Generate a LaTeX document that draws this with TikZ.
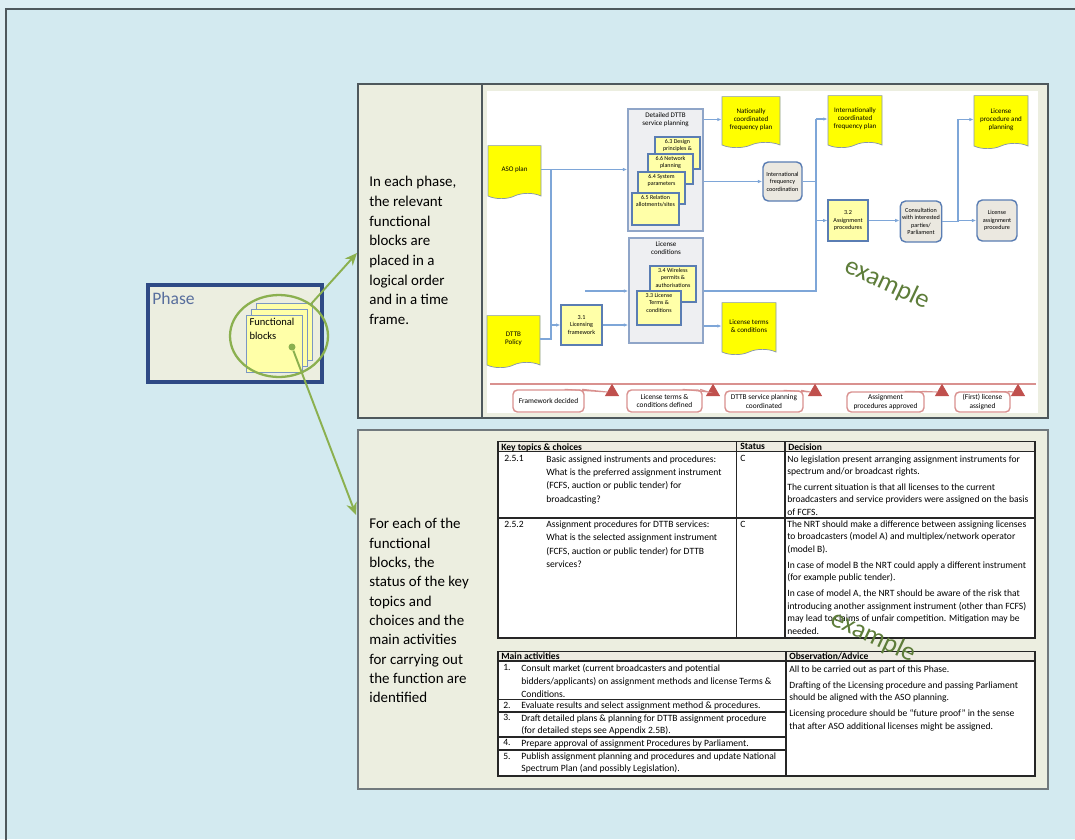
\documentclass[tikz,border=0pt]{standalone}
\usepackage{fontspec}
\setmainfont{Carlito}
\usepackage{tikz}
\usetikzlibrary{shapes,shapes.symbols,shapes.geometric,arrows.meta,positioning,calc}

\definecolor{bgblue}{HTML}{D3EAF0}
\definecolor{bgtop}{HTML}{DDEEF3}
\definecolor{framegray}{HTML}{4E585C}
\definecolor{panelfill}{HTML}{ECEEE0}
\definecolor{connblue}{HTML}{7EA6D8}
\definecolor{docline}{HTML}{8797AD}
\definecolor{docyellow}{HTML}{FFFF00}
\definecolor{boxyellow}{HTML}{FFFFA8}
\definecolor{boxline}{HTML}{5A7DB3}
\definecolor{grpfill}{HTML}{EEEFF2}
\definecolor{grpline}{HTML}{8FA5C8}
\definecolor{procfill}{HTML}{EBE8E0}
\definecolor{msred}{HTML}{C0504D}
\definecolor{msline}{HTML}{D9918F}
\definecolor{leafgreen}{HTML}{8BB04F}
\definecolor{examplegreen}{HTML}{5E7D3A}
\definecolor{phaseblue}{HTML}{2E4A85}
\definecolor{hdrfill}{HTML}{EEECE2}

\newcommand{\docfont}{\fontsize{4}{4.6}\selectfont}
\newcommand{\boxfont}{\fontsize{3.5}{4.3}\selectfont}
\newcommand{\stackfont}{\fontsize{3.4}{4.2}\selectfont}
\newcommand{\grpfont}{\fontsize{4}{5}\selectfont}
\newcommand{\msfont}{\fontsize{4.2}{5}\selectfont}
\newcommand{\sidefont}{\fontsize{8.5}{11.2}\selectfont}
\newcommand{\tabfont}{\fontsize{5.45}{7.1}\selectfont}

\begin{document}
\begin{tikzpicture}[x=0.02cm, y=-0.02cm,
    doc/.style={tape, tape bend top=none, tape bend bottom=in and out, tape bend height=3pt, draw=docline, fill=docyellow, align=center, font=\docfont, inner sep=1pt},
    grp/.style={rectangle, draw=grpline, thick, fill=grpfill, inner sep=0pt},
    grptxt/.style={font=\grpfont, align=center, anchor=north, inner sep=2pt},
    fbox/.style={rectangle, draw=boxline, semithick, fill=boxyellow, align=center, font=\boxfont, inner sep=1pt},
    stack/.style={rectangle, draw=boxline, semithick, fill=boxyellow, inner sep=0pt},
    stacktxt/.style={font=\stackfont, align=center, anchor=north, inner sep=1.5pt},
    proc/.style={rectangle, rounded corners=3pt, draw=boxline, thick, fill=procfill, align=center, font=\boxfont, inner sep=1pt},
    conn/.style={draw=connblue, semithick},
    arr/.style={conn, -{Latex[length=2.5pt,width=2pt]}},
    msnote/.style={rectangle, rounded corners=2.5pt, draw=msline, thick, fill=white, align=center, font=\msfont, inner sep=1pt},
    mstone/.style={regular polygon, regular polygon sides=3, fill=msred, draw=msred, minimum size=0.3cm, inner sep=0pt},
    msptr/.style={draw=msline, semithick},
    card/.style={rectangle, draw=boxline!80, fill=boxyellow, minimum width=1.12cm, minimum height=1.14cm, inner sep=0pt},
    grarrow/.style={draw=leafgreen, line width=1.1pt, -{Stealth[length=7pt,width=6pt]}},
    cell/.style={font=\tabfont, align=left, anchor=north west, inner sep=0pt},
    wmark/.style={font=\fontsize{15}{15}\selectfont, text=examplegreen, rotate=-25}]

    \useasboundingbox (0,0) rectangle (1075,839);

    % background and frame
    \fill[bgtop] (0,0) rectangle (1075,839);
    \fill[bgblue] (6,9) rectangle (1075,839);
    \draw[framegray, line width=1.2pt] (6,845) -- (6,9) -- (1080,9);

    % top panel
    \draw[framegray, line width=0.8pt, fill=panelfill] (358,84) rectangle (1048,418);
    \draw[framegray, line width=0.8pt, fill=panelfill] (482,84) rectangle (1048,418);
    \fill[white] (487,91) rectangle (1038,413);

    % bottom panel
    \draw[framegray!80, line width=0.8pt, fill=panelfill] (358,430) rectangle (1048,789);

    % side texts
    \node[anchor=north west, align=left, font=\sidefont, inner sep=0pt] (phasetxt) at (369,176) {In each phase,\\the relevant\\functional\\blocks are\\placed in a\\logical order\\and in a time\\frame.};
    \node[anchor=north west, align=left, font=\fontsize{8.5}{11}\selectfont, inner sep=0pt] (blocktxt) at (369,518) {For each of the\\functional\\blocks, the\\status of the key\\topics and\\choices and the\\main activities\\for carrying out\\the function are\\identified};

    % Phase with functional blocks
    \node[rectangle, draw=phaseblue, line width=1.8pt, fill=panelfill, minimum width=3.48cm, minimum height=1.94cm] (phase) at (235,333.5) {};
    \node[anchor=north west, font=\fontsize{10}{12}\selectfont, text=phaseblue!80, inner sep=0pt] (phasettl) at (152,292) {Phase};
    \node[card] (card3) at (284,331.5) {};
    \node[card] (card2) at (279.5,337.5) {};
    \node[card, label={[name=card1t, anchor=north west, font=\fontsize{6}{7.5}\selectfont, align=left, inner sep=2pt]north west:Functional\\blocks}] (card1) at (274,343.5) {};
    \node[ellipse, draw=leafgreen, line width=1.3pt, minimum width=1.96cm, minimum height=1.64cm] (focus) at (279,336) {};
    \node[circle, fill=leafgreen, minimum size=0.14cm, inner sep=0pt] (focusdot) at (292,347) {};
    \coordinate (flowin) at (357,253);
    \coordinate (tablein) at (356,515);
    \draw[grarrow] (focus.45) -- (flowin);
    \draw[grarrow] (focusdot) -- (tablein);

    % documents
    \node[doc, minimum width=1.06cm, minimum height=1.06cm] (aso) at (514.5,169.5) {ASO plan};
    \node[doc, minimum width=1.06cm, minimum height=1.04cm] (dttb) at (513.5,339) {DTTB\\Policy};
    \node[doc, minimum width=1.16cm, minimum height=1.02cm] (natplan) at (751,119.5) {Nationally\\coordinated\\frequency plan};
    \node[doc, minimum width=1.08cm, minimum height=1.04cm] (intplan) at (855,119) {Internationally\\coordinated\\frequency plan};
    \node[doc, minimum width=1.08cm, minimum height=1.06cm] (licplan) at (1001,119.5) {License\\procedure and\\planning};
    \node[doc, minimum width=1.08cm, minimum height=1.04cm] (licterms) at (749,326) {License terms\\\& conditions};

    % service planning group
    \node[grp, minimum width=1.5cm, minimum height=2.44cm, label={[grptxt, name=svcttl]north:Detailed DTTB\\service planning}] (svcgrp) at (665.5,170) {};
    \node[stack, minimum width=0.9cm, minimum height=0.64cm, label={[stacktxt, name=b63t]north:6.3 Design\\principles \&}] (b63) at (677.5,153) {};
    \node[stack, minimum width=0.9cm, minimum height=0.6cm, label={[stacktxt, name=b66t]north:6.6 Network\\planning}] (b66) at (670.5,169) {};
    \node[stack, minimum width=0.94cm, minimum height=0.64cm, label={[stacktxt, name=b64t]north:6.4 System\\parameters}] (b64) at (661.5,188) {};
    \node[stack, minimum width=0.94cm, minimum height=0.64cm, label={[stacktxt, name=b65t]north:6.5 Relation\\allotments/sites}] (b65) at (655.5,209) {};

    % license conditions group
    \node[grp, minimum width=1.48cm, minimum height=2.1cm, label={[grptxt, name=licttl]north:License\\conditions}] (licgrp) at (666,290.5) {};
    \node[stack, minimum width=0.92cm, minimum height=0.72cm, label={[stacktxt, name=b34t]north:3.4 Wireless\\permits \&\\authorisations}] (b34) at (673,284) {};
    \node[stack, minimum width=0.88cm, minimum height=0.68cm, label={[stacktxt, name=b33t]north:3.3 License\\Terms \&\\conditions}] (b33) at (659,308) {};

    % process boxes
    \node[fbox, minimum width=0.82cm, minimum height=0.8cm] (licfw) at (581.5,325) {3.1\\Licensing\\framework};
    \node[proc, minimum width=0.78cm, minimum height=0.78cm] (intcoord) at (782.5,181.5) {International\\frequency\\coordination};
    \node[fbox, minimum width=0.8cm, minimum height=0.82cm] (asgproc) at (848,220.5) {3.2\\Assignment\\procedures};
    \node[proc, minimum width=0.8cm, minimum height=0.82cm] (consult) at (921,221.5) {Consultation\\with interested\\parties/\\Parliament};
    \node[proc, minimum width=0.8cm, minimum height=0.82cm] (licassign) at (997,220.5) {License\\assignment\\procedure};

    % connectors
    \coordinate (busA) at (551,0);
    \coordinate (busB) at (816,0);
    \coordinate (busC) at (958,0);
    \coordinate (licin) at (585,291);
    \draw[arr] (aso.east) -- (aso.east -| svcgrp.west);
    \draw[conn] (dttb.east) -| (busA |- aso.east);
    \draw[arr] (busA |- licfw.west) -- (licfw.west);
    \draw[arr] (licin) -- (licin -| licgrp.west);
    \draw[arr] (licfw.east) -- (licfw.east -| licgrp.west);
    \draw[arr] (svcgrp.east |- natplan.west) -- (natplan.west);
    \draw[arr] (svcgrp.east |- intcoord.west) -- (intcoord.west);
    \draw[conn] (intcoord.east) -- (busB |- intcoord.east);
    \draw[conn] (licgrp.east |- licin) -| (busB |- intplan.west);
    \draw[arr] (busB |- intplan.west) -- (intplan.west);
    \draw[arr] (busB |- asgproc.west) -- (asgproc.west);
    \draw[arr] (licgrp.east |- licterms.west) -- (licterms.west);
    \draw[arr] (asgproc.east) -- (asgproc.east -| consult.west);
    \draw[conn] (consult.east) -- (busC |- consult.east);
    \draw[arr] (busC |- licassign.west) -- (licassign.west);
    \draw[arr] (busC |- consult.east) |- (licplan.west);

    % milestones
    \coordinate (msL) at (490,384);
    \coordinate (msR) at (1036,384);
    \draw[msline, line width=1.2pt] (msL) -- (msR);
    \node[msnote, minimum width=1.42cm, minimum height=0.44cm] (c1) at (548.5,401) {Framework decided};
    \node[msnote, minimum width=1.5cm, minimum height=0.44cm] (c2) at (664.5,401) {License terms \&\\conditions defined};
    \node[msnote, minimum width=1.56cm, minimum height=0.42cm] (c3) at (764,401.5) {DTTB service planning\\coordinated};
    \node[msnote, minimum width=1.54cm, minimum height=0.4cm] (c4) at (885.5,402) {Assignment\\procedures approved};
    \node[msnote, minimum width=1.1cm, minimum height=0.4cm] (c5) at (982.5,402) {(First) license\\assigned};
    \node[mstone] (m1) at (612,392) {};
    \node[mstone] (m2) at (713,392) {};
    \node[mstone] (m3) at (815,392) {};
    \node[mstone] (m4) at (942,392) {};
    \node[mstone] (m5) at (1018,392) {};
    \draw[msptr] ([xshift=-0.4cm]c1.north east) -- (m1.west) -- ([xshift=-0.05cm]c1.north east);
    \draw[msptr] ([xshift=-0.4cm]c2.north east) -- (m2.west) -- ([xshift=-0.05cm]c2.north east);
    \draw[msptr] ([xshift=-0.4cm]c3.north east) -- (m3.west) -- ([xshift=-0.05cm]c3.north east);
    \draw[msptr] ([xshift=-0.4cm]c4.north east) -- (m4.west) -- ([xshift=-0.05cm]c4.north east);
    \draw[msptr] ([xshift=-0.4cm]c5.north east) -- (m5.west) -- ([xshift=-0.05cm]c5.north east);

    \node[wmark] (wm1) at (887,284) {example};

    % key topics table
    \fill[white] (498,441.5) rectangle (1035,638);
    \fill[hdrfill] (498,441.5) rectangle (1035,451.5);
    \draw[black!85, line width=0.6pt] (498,441.5) rectangle (1035,638);
    \draw[black!85, line width=0.6pt] (498,451.5) -- (1035,451.5) (498,518) -- (1035,518)
        (736.5,441.5) -- (736.5,638) (785,441.5) -- (785,638);
    \node[cell] (kthdr) at (501,443) {\textbf{Key topics \& choices}};
    \node[cell] (sthdr) at (740,443) {\textbf{Status}};
    \node[cell] (dchdr) at (788,443) {\textbf{Decision}};
    \node[cell] (kt1n) at (504,455) {2.5.1};
    \node[cell, font=\fontsize{5.45}{7.6}\selectfont] (kt1) at (546,455) {Basic assigned instruments and procedures:\\What is the preferred assignment instrument\\(FCFS, auction or public tender) for\\broadcasting?};
    \node[cell] (st1) at (740,455) {C};
    \node[cell] (dc1) at (787,455) {No legislation present arranging assignment instruments for\\spectrum and/or broadcast rights.\\[2pt]The current situation is that all licenses to the current\\broadcasters and service providers were assigned on the basis\\of FCFS.};
    \node[cell] (kt2n) at (504,520.5) {2.5.2};
    \node[cell, font=\fontsize{5.45}{7.6}\selectfont] (kt2) at (546,520.5) {Assignment procedures for DTTB services:\\What is the selected assignment instrument\\(FCFS, auction or public tender) for DTTB\\services?};
    \node[cell] (st2) at (740,520.5) {C};
    \node[cell] (dc2) at (787,520.5) {The NRT should make a difference between assigning licenses\\to broadcasters (model A) and multiplex/network operator\\(model B).\\[2pt]In case of model B the NRT could apply a different instrument\\(for example public tender).\\[2pt]In case of model A, the NRT should be aware of the risk that\\introducing another assignment instrument (other than FCFS)\\may lead to claims of unfair competition. Mitigation may be\\needed.};

    % main activities table
    \fill[white] (498,651.5) rectangle (1035,776);
    \fill[hdrfill] (498,651.5) rectangle (1035,661);
    \draw[black!85, line width=0.6pt] (498,651.5) rectangle (1035,776);
    \draw[black!85, line width=0.6pt] (498,661) -- (1035,661) (786,651.5) -- (786,776)
        (498,699.5) -- (786,699.5) (498,712) -- (786,712) (498,737) -- (786,737) (498,750) -- (786,750);
    \node[cell] (mahdr) at (501,652.5) {\textbf{Main activities}};
    \node[cell] (obhdr) at (789,652.5) {\textbf{Observation/Advice}};
    \node[cell] (ma1n) at (503,664) {1.};
    \node[cell, font=\fontsize{5.45}{7.4}\selectfont] (ma1) at (521,664) {Consult market (current broadcasters and potential\\bidders/applicants) on assignment methods and license Terms \&\\Conditions.};
    \node[cell] (ma2n) at (503,701.5) {2.};
    \node[cell] (ma2) at (521,701.5) {Evaluate results and select assignment method \& procedures.};
    \node[cell] (ma3n) at (503,714) {3.};
    \node[cell] (ma3) at (521,714) {Draft detailed plans \& planning for DTTB assignment procedure\\(for detailed steps see Appendix 2.5B).};
    \node[cell] (ma4n) at (503,739) {4.};
    \node[cell] (ma4) at (521,739) {Prepare approval of assignment Procedures by Parliament.};
    \node[cell] (ma5n) at (503,752.5) {5.};
    \node[cell] (ma5) at (521,752.5) {Publish assignment planning and procedures and update National\\Spectrum Plan (and possibly Legislation).};
    \node[cell] (ob1) at (789,665.5) {All to be carried out as part of this Phase.\\[2pt]Drafting of the Licensing procedure and passing Parliament\\should be aligned with the ASO planning.\\[2pt]Licensing procedure should be ``future proof'' in the sense\\that after ASO additional licenses might be assigned.};

    \node[wmark] (wm2) at (873,637) {example};

\end{tikzpicture}
\end{document}
